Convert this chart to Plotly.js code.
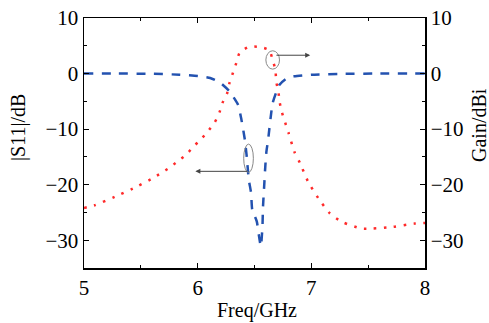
<!DOCTYPE html>
<html>
<head>
<meta charset="utf-8">
<script src="https://cdn.plot.ly/plotly-3.0.1.min.js"></script>
<style>html,body{margin:0;padding:0;background:#fff;}#chart{width:489px;height:323px;}</style>
</head>
<body>
<div id="chart"></div>
<script>
// S11 (dB) vs frequency (GHz)
const s11Freq = [5.0, 5.3, 5.6, 5.84, 6.0, 6.11, 6.195, 6.28, 6.355, 6.385, 6.415, 6.43, 6.45, 6.47, 6.48, 6.52, 6.54, 6.555, 6.56, 6.57, 6.575, 6.585, 6.595, 6.605, 6.62, 6.66, 6.72, 6.78, 6.85, 7.0, 7.3, 7.6, 8.0];
const s11Val  = [0, 0, -0.05, -0.2, -0.45, -0.8, -1.6, -3.2, -5.6, -8.3, -11.9, -14.6, -19.1, -21.5, -24.5, -26.6, -29.3, -31.1, -30.5, -27.5, -23.9, -20.3, -16.7, -14.0, -11.9, -5.3, -2.0, -0.9, -0.5, -0.2, -0.05, 0, 0];

// Gain (dBi) vs frequency (GHz)
const gainFreq = [5.0, 5.094, 5.27, 5.43, 5.59, 5.68, 5.755, 5.83, 5.90, 5.96, 6.03, 6.09, 6.15, 6.195, 6.22, 6.26, 6.28, 6.31, 6.34, 6.37, 6.45, 6.545, 6.63, 6.66, 6.685, 6.69, 6.71, 6.72, 6.74, 6.80, 6.855, 6.90, 6.97, 7.06, 7.16, 7.27, 7.44, 7.54, 7.72, 7.91, 8.0];
const gainVal  = [-24.2, -23.7, -22.2, -20.7, -19.0, -17.9, -16.9, -15.7, -14.6, -13.2, -11.8, -10.4, -8.8, -6.8, -5.2, -3.5, -1.7, 0.1, 1.9, 3.8, 4.8, 4.8, 4.2, 2.4, 0.6, -1.4, -3.2, -5.0, -6.9, -10.7, -14.3, -16.1, -19.4, -22.4, -25.1, -26.7, -27.9, -27.9, -27.6, -27.0, -26.9];

const xTicks = [5, 6, 7, 8];
const yTicks = [10, 0, -10, -20, -30];

const xTitle = 'Freq/GHz';
const yTitle = '|S11|/dB';
const y2Title = 'Gain/dBi';

const font = {family: 'Liberation Serif, Times New Roman, serif', color: '#000'};

const traces = [
  {x: s11Freq, y: s11Val, type: 'scatter', mode: 'lines', name: '|S11|',
   line: {color: '#2352b0', width: 2.5, dash: '9px,8.5px', shape: 'spline', smoothing: 0.5}, yaxis: 'y'},
  {x: gainFreq, y: gainVal, type: 'scatter', mode: 'lines', name: 'Gain',
   line: {color: '#ff2a2a', width: 2.5, dash: '2.5px,7.5px', shape: 'spline', smoothing: 0.6}, yaxis: 'y2'}
];

const axisCommon = {
  showline: true, linecolor: '#000', linewidth: 1.5,
  ticks: 'inside', ticklen: 5, tickwidth: 1.2, tickcolor: '#000',
  showgrid: false, zeroline: false,
  tickfont: Object.assign({size: 21}, font)
};

const titleFont = Object.assign({size: 20}, font);

const layout = {
  width: 489, height: 323,
  margin: {l: 84, r: 64, t: 18, b: 55},
  paper_bgcolor: '#fff', plot_bgcolor: '#fff',
  showlegend: false,
  xaxis: Object.assign({}, axisCommon, {
    range: [5, 8], tickvals: xTicks, ticktext: xTicks.map(String), mirror: 'ticks',
    minor: {dtick: 0.5, tick0: 5, ticklen: 3, ticks: 'inside', tickcolor: '#000', tickwidth: 1.2}
  }),
  yaxis: Object.assign({}, axisCommon, {
    range: [-35, 10], tickvals: yTicks,
    minor: {dtick: 5, tick0: 0, ticklen: 3, ticks: 'inside', tickcolor: '#000', tickwidth: 1.2}
  }),
  yaxis2: Object.assign({}, axisCommon, {
    range: [-35, 10], tickvals: yTicks, overlaying: 'y', side: 'right',
    minor: {dtick: 5, tick0: 0, ticklen: 3, ticks: 'inside', tickcolor: '#000', tickwidth: 1.2}
  }),
  shapes: [
    {type: 'circle', xref: 'x', yref: 'y', x0: 6.405, x1: 6.49, y0: -17.8, y1: -12.7,
     line: {color: '#888', width: 1}},
    {type: 'circle', xref: 'x', yref: 'y', x0: 6.6, x1: 6.72, y0: 0.8, y1: 4.1,
     line: {color: '#888', width: 1}}
  ],
  annotations: [
    {xref: 'x', yref: 'y', x: 5.98, y: -17.6, ax: 6.45, ay: -17.6, axref: 'x', ayref: 'y',
     text: '', showarrow: true, arrowhead: 2, arrowsize: 1, arrowwidth: 1, arrowcolor: '#444'},
    {xref: 'x', yref: 'y', x: 6.99, y: 3.3, ax: 6.68, ay: 3.3, axref: 'x', ayref: 'y',
     text: '', showarrow: true, arrowhead: 2, arrowsize: 1, arrowwidth: 1, arrowcolor: '#444'},
    {xref: 'paper', yref: 'paper', x: 0.5, y: 0, yshift: -42, xshift: 2, text: xTitle,
     showarrow: false, font: titleFont, xanchor: 'center', yanchor: 'middle'},
    {xref: 'paper', yref: 'paper', x: 0, y: 0.5, xshift: -66, yshift: 15, text: yTitle, textangle: -90,
     showarrow: false, font: titleFont, xanchor: 'center', yanchor: 'middle'},
    {xref: 'paper', yref: 'paper', x: 1, y: 0.5, xshift: 54, yshift: 18, text: y2Title, textangle: -90,
     showarrow: false, font: titleFont, xanchor: 'center', yanchor: 'middle'}
  ]
};

Plotly.newPlot('chart', traces, layout, {displayModeBar: false, staticPlot: true});
</script>
</body>
</html>
